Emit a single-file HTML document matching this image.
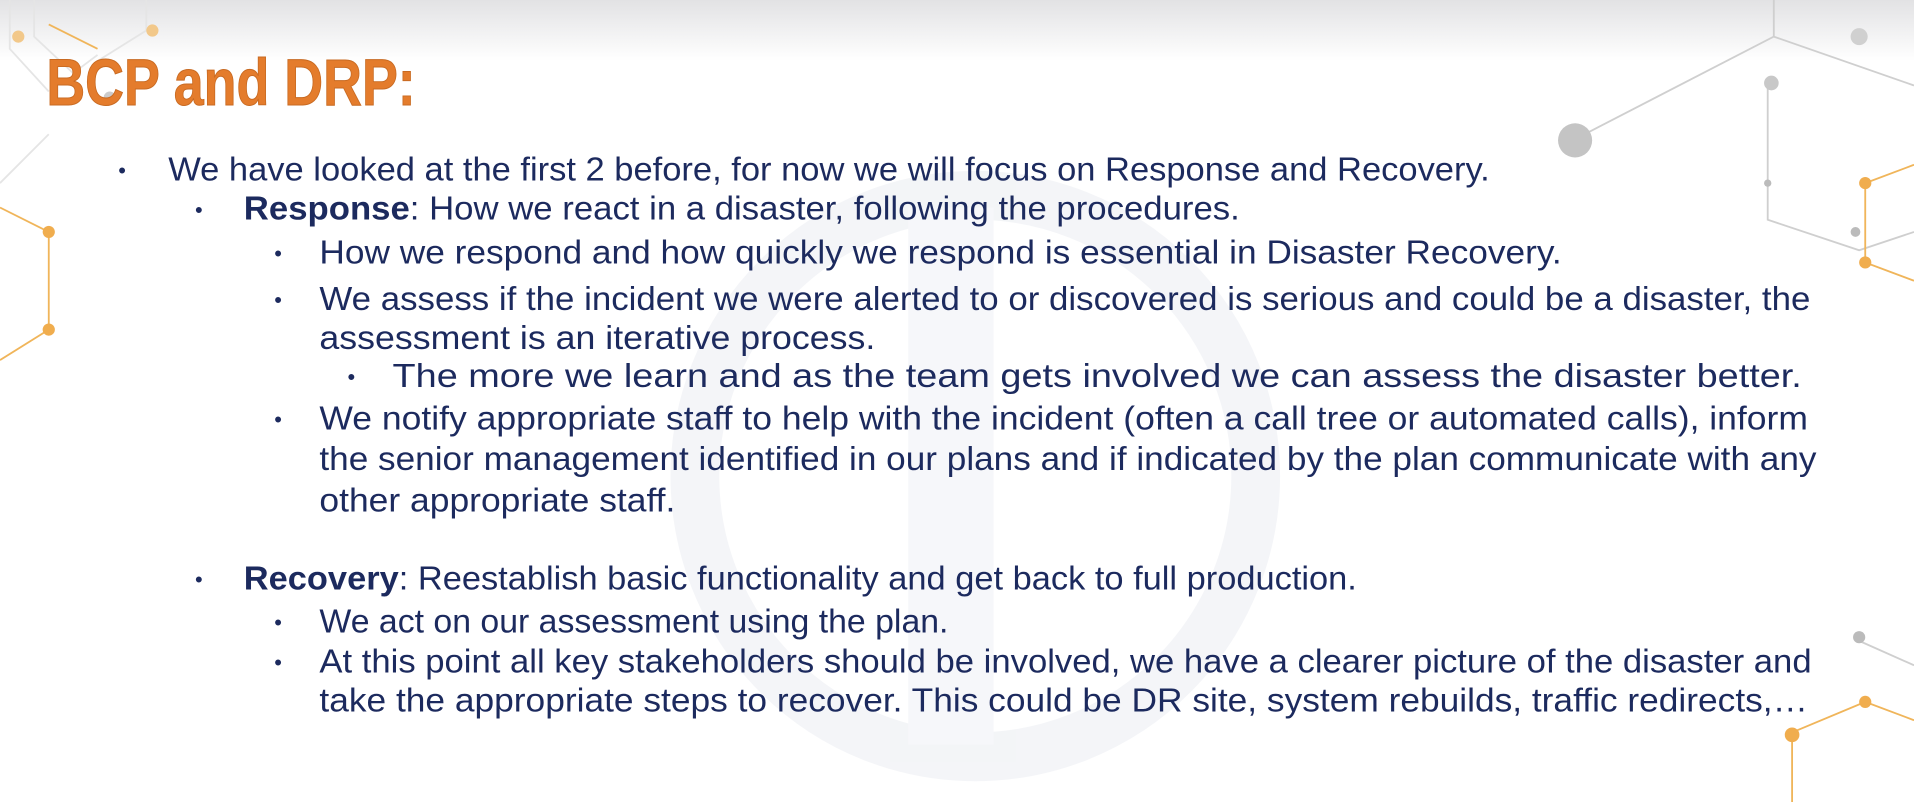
<!DOCTYPE html>
<html><head><meta charset="utf-8"><style>
html,body{margin:0;padding:0;width:1914px;height:802px;overflow:hidden;background:#fff}
svg{display:block}
.t{font-family:"Liberation Sans",sans-serif;font-size:27px;fill:#1c2a5e}
.b{font-weight:bold}
.bul{font-family:"Liberation Sans",sans-serif;font-size:18px;fill:#1c2a5e}
</style></head><body>
<svg width="1914" height="802" viewBox="0 0 1570 657" preserveAspectRatio="none">
<defs>
<linearGradient id="tg" x1="0" y1="0" x2="0" y2="1"><stop offset="0" stop-color="#e2e2e4"/><stop offset="1" stop-color="#ffffff"/></linearGradient>
</defs>
<rect width="1570" height="657" fill="#fff"/>
<rect width="1570" height="50" fill="url(#tg)"/>
<g opacity="0.45">
<circle cx="800" cy="390" r="230" fill="none" stroke="#e6e9ef" stroke-width="40"/>
<rect x="745" y="170" width="70" height="440" fill="#eceff4"/>
</g>
<g fill="none" stroke-width="1.5">
<path d="M8 0 V40 L40 75 M28 0 V30 L60 60 L80 45 M120 0 V25 L80 50 M0 150 L40 110" stroke="#e5e5e5"/>
<path d="M0 170 L40 190 V270 L0 295 M40 20 L80 40" stroke="#f0b55a"/>
<path d="M1290 115 L1455 30 L1570 70 M1455 30 V0 M1450 70 V180 L1525 205 L1570 190" stroke="#cfcfcf"/>
<path d="M1530 150 L1570 135 M1530 150 V215 L1570 230 M1470 600 L1530 575 L1570 590 M1470 600 V657" stroke="#f0b55a"/>
<path d="M1525 525 L1570 545" stroke="#cfcfcf"/>
</g>
<g>
<circle cx="1292" cy="115" r="14" fill="#c4c4c4"/><circle cx="1453" cy="68" r="6" fill="#c8c8c8"/>
<circle cx="1525" cy="30" r="7" fill="#d0d0d0"/><circle cx="1522" cy="190" r="4" fill="#bbb"/>
<circle cx="1450" cy="150" r="3" fill="#bbb"/><circle cx="1525" cy="522" r="5" fill="#bbb"/>
<circle cx="40" cy="190" r="5" fill="#f0ad4e"/><circle cx="40" cy="270" r="5" fill="#f0ad4e"/>
<circle cx="1530" cy="575" r="5" fill="#f0ad4e"/><circle cx="1470" cy="602" r="6" fill="#f0ad4e"/>
<circle cx="1530" cy="150" r="5" fill="#f0ad4e"/><circle cx="1530" cy="215" r="5" fill="#f0ad4e"/>
<circle cx="125" cy="25" r="5" fill="#f2c88a"/><circle cx="15" cy="30" r="5" fill="#f2c88a"/>
<circle cx="90" cy="80" r="5" fill="#ccc"/>
</g>
<text x="38" y="86" textLength="303" lengthAdjust="spacingAndGlyphs" font-family="Liberation Sans, sans-serif" font-weight="bold" font-size="54" fill="#e47c2c" stroke="#c86a22" stroke-width="0.8">BCP and DRP:</text>
<g>
<text class="bul" x="97" y="146">•</text>
<text class="t" x="138" y="148" textLength="1084" lengthAdjust="spacingAndGlyphs">We have looked at the first 2 before, for now we will focus on Response and Recovery.</text>
<text class="bul" x="160" y="178">•</text>
<text class="t" x="200" y="180" textLength="817" lengthAdjust="spacingAndGlyphs"><tspan class="b">Response</tspan>: How we react in a disaster, following the procedures.</text>
<text class="bul" x="225" y="214">•</text>
<text class="t" x="262" y="216" textLength="1019" lengthAdjust="spacingAndGlyphs">How we respond and how quickly we respond is essential in Disaster Recovery.</text>
<text class="bul" x="225" y="252">•</text>
<text class="t" x="262" y="254" textLength="1223" lengthAdjust="spacingAndGlyphs">We assess if the incident we were alerted to or discovered is serious and could be a disaster, the</text>
<text class="t" x="262" y="286" textLength="456" lengthAdjust="spacingAndGlyphs">assessment is an iterative process.</text>
<text class="bul" x="285" y="315">•</text>
<text class="t" x="322" y="317" textLength="1156" lengthAdjust="spacingAndGlyphs">The more we learn and as the team gets involved we can assess the disaster better.</text>
<text class="bul" x="225" y="350">•</text>
<text class="t" x="262" y="352" textLength="1221" lengthAdjust="spacingAndGlyphs">We notify appropriate staff to help with the incident (often a call tree or automated calls), inform</text>
<text class="t" x="262" y="385" textLength="1228" lengthAdjust="spacingAndGlyphs">the senior management identified in our plans and if indicated by the plan communicate with any</text>
<text class="t" x="262" y="419" textLength="292" lengthAdjust="spacingAndGlyphs">other appropriate staff.</text>
<text class="bul" x="160" y="481">•</text>
<text class="t" x="200" y="483" textLength="913" lengthAdjust="spacingAndGlyphs"><tspan class="b">Recovery</tspan>: Reestablish basic functionality and get back to full production.</text>
<text class="bul" x="225" y="516">•</text>
<text class="t" x="262" y="518" textLength="516" lengthAdjust="spacingAndGlyphs">We act on our assessment using the plan.</text>
<text class="bul" x="225" y="549">•</text>
<text class="t" x="262" y="551" textLength="1224" lengthAdjust="spacingAndGlyphs">At this point all key stakeholders should be involved, we have a clearer picture of the disaster and</text>
<text class="t" x="262" y="583" textLength="1221" lengthAdjust="spacingAndGlyphs">take the appropriate steps to recover. This could be DR site, system rebuilds, traffic redirects,…</text>
</g>
</svg>
</body></html>
